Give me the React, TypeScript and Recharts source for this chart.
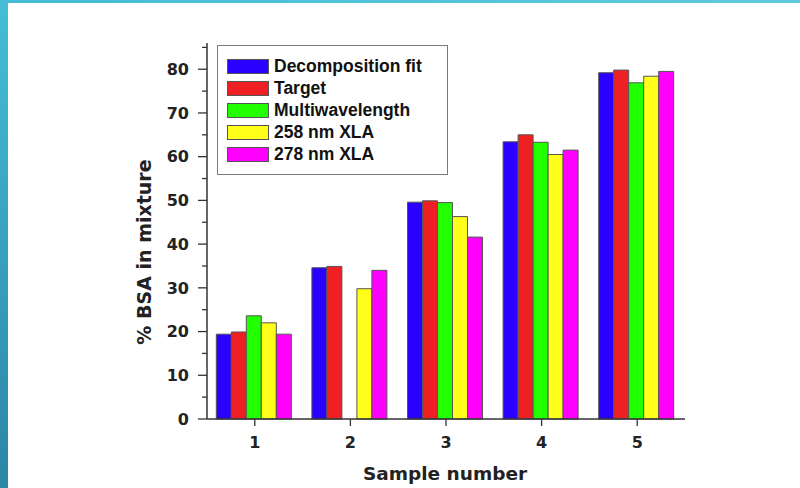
import React from 'react';
import { BarChart, Bar, XAxis, YAxis, Label } from 'recharts';

// Sample categories and the five measured series (% BSA)
const samples = ['1', '2', '3', '4', '5'];
const decompositionFit = [19.4, 34.6, 49.6, 63.4, 79.2];
const target = [19.9, 34.9, 49.9, 65.0, 79.8];
const multiwavelength = [23.6, null, 49.5, 63.3, 76.9];
const xla258 = [22.0, 29.8, 46.3, 60.5, 78.4];
const xla278 = [19.4, 34.0, 41.6, 61.5, 79.5];

const yTicks = [0, 5, 10, 15, 20, 25, 30, 35, 40, 45, 50, 55, 60, 65, 70, 75, 80, 85];

const seriesNames = ['Decomposition fit', 'Target', 'Multiwavelength', '258 nm XLA', '278 nm XLA'];
const seriesKeys = ['fit', 'target', 'multi', 'xla258', 'xla278'];
const seriesColors = ['#2A00FF', '#EE2024', '#22FF00', '#FFFF1A', '#FF00FF'];

const data = samples.map((s, i) => ({
  sample: s,
  fit: decompositionFit[i],
  target: target[i],
  multi: multiwavelength[i],
  xla258: xla258[i],
  xla278: xla278[i],
}));

const AXIS_FONT = '"DejaVu Sans", sans-serif';
const AXIS_COLOR = '#333';

function YTick(props: any) {
  const { x, y, payload } = props;
  const major = payload.value % 10 === 0;
  return (
    <g>
      <line x1={x - (major ? 9 : 5)} x2={x} y1={y} y2={y} stroke={AXIS_COLOR} strokeWidth={1.3} />
      {major && (
        <text
          x={x - 18}
          y={y}
          dy="0.36em"
          textAnchor="end"
          fontFamily={AXIS_FONT}
          fontWeight="bold"
          fontSize={16}
          fill="#222"
        >
          {payload.value}
        </text>
      )}
    </g>
  );
}

// Series key, drawn as a boxed overlay in the upper-left of the plot
function LegendBox() {
  return (
    <div
      style={{
        position: 'absolute',
        left: 217,
        top: 45,
        width: 229,
        height: 119,
        border: '1px solid #7a7a7a',
        background: '#fff',
        boxSizing: 'content-box',
        paddingTop: 9,
      }}
    >
      {seriesNames.map((name, i) => (
        <div key={name} style={{ display: 'flex', alignItems: 'center', height: 22, marginLeft: 9 }}>
          <div
            style={{
              width: 40,
              height: 13,
              background: seriesColors[i],
              border: '1px solid #555',
              marginRight: 5,
            }}
          />
          <span
            style={{
              fontFamily: '"Liberation Sans", Arial, sans-serif',
              fontWeight: 'bold',
              fontSize: 17.5,
              color: '#111',
              lineHeight: '22px',
              whiteSpace: 'nowrap',
            }}
          >
            {name}
          </span>
        </div>
      ))}
    </div>
  );
}

export default function App() {
  return (
    <div style={{ position: 'absolute', left: 0, top: 0, width: 800, height: 488, overflow: 'hidden', background: '#fff' }}>
      <div
        style={{
          position: 'absolute',
          left: 0,
          top: 0,
          width: 800,
          height: 3,
          background: 'linear-gradient(to right, #44BCD4, #60C9DD)',
        }}
      />
      <div
        style={{
          position: 'absolute',
          left: 0,
          top: 0,
          width: 8,
          height: 488,
          background: 'linear-gradient(to bottom, #45BED5, #2C86A6)',
        }}
      />
      <div style={{ position: 'absolute', left: 0, top: 0 }}>
        <BarChart
          width={800}
          height={488}
          data={data}
          margin={{ top: 43, right: 115, bottom: 39, left: 147 }}
          barCategoryGap={9.3}
          barGap={0}
        >
          <XAxis
            dataKey="sample"
            height={30}
            tickSize={7}
            tickMargin={11}
            stroke={AXIS_COLOR}
            axisLine={{ stroke: AXIS_COLOR, strokeWidth: 1.5 }}
            tickLine={{ stroke: AXIS_COLOR, strokeWidth: 1.3 }}
            tick={{ fontFamily: AXIS_FONT, fontWeight: 'bold', fontSize: 16, fill: '#222' }}
          >
            <Label
              content={(p: any) => {
                const vb = p.viewBox;
                return (
                  <text
                    x={vb.x + vb.width / 2 - 1}
                    y={vb.y + vb.height + 31}
                    textAnchor="middle"
                    fontFamily={AXIS_FONT}
                    fontWeight="bold"
                    fontSize={18.5}
                    fill="#222"
                  >
                    Sample number
                  </text>
                );
              }}
            />
          </XAxis>
          <XAxis
            xAxisId="top"
            dataKey="sample"
            orientation="top"
            height={0}
            tick={false}
            tickLine={false}
            axisLine={{ stroke: AXIS_COLOR, strokeWidth: 1.5 }}
          />
          <YAxis
            width={60}
            domain={[0, 86]}
            ticks={yTicks}
            interval={0}
            tickSize={0}
            tickMargin={0}
            tickLine={false}
            axisLine={{ stroke: AXIS_COLOR, strokeWidth: 1.5 }}
            tick={<YTick />}
          >
            <Label
              content={(p: any) => {
                const vb = p.viewBox;
                const cx = vb.x - 3;
                const cy = vb.y + vb.height / 2 + 21;
                return (
                  <text
                    x={cx}
                    y={cy}
                    transform={`rotate(-90 ${cx} ${cy})`}
                    textAnchor="middle"
                    dominantBaseline="central"
                    fontFamily={AXIS_FONT}
                    fontWeight="bold"
                    fontSize={19}
                    fill="#222"
                  >
                    % BSA in mixture
                  </text>
                );
              }}
            />
          </YAxis>
          <YAxis
            yAxisId="right"
            orientation="right"
            width={0}
            domain={[0, 86]}
            tick={false}
            tickLine={false}
            axisLine={{ stroke: AXIS_COLOR, strokeWidth: 1.5 }}
          />
          {seriesKeys.map((k, i) => (
            <Bar
              key={k}
              dataKey={k}
              name={seriesNames[i]}
              fill={seriesColors[i]}
              stroke="#555"
              strokeWidth={1}
              isAnimationActive={false}
            />
          ))}
        </BarChart>
      </div>
      <LegendBox />
    </div>
  );
}
